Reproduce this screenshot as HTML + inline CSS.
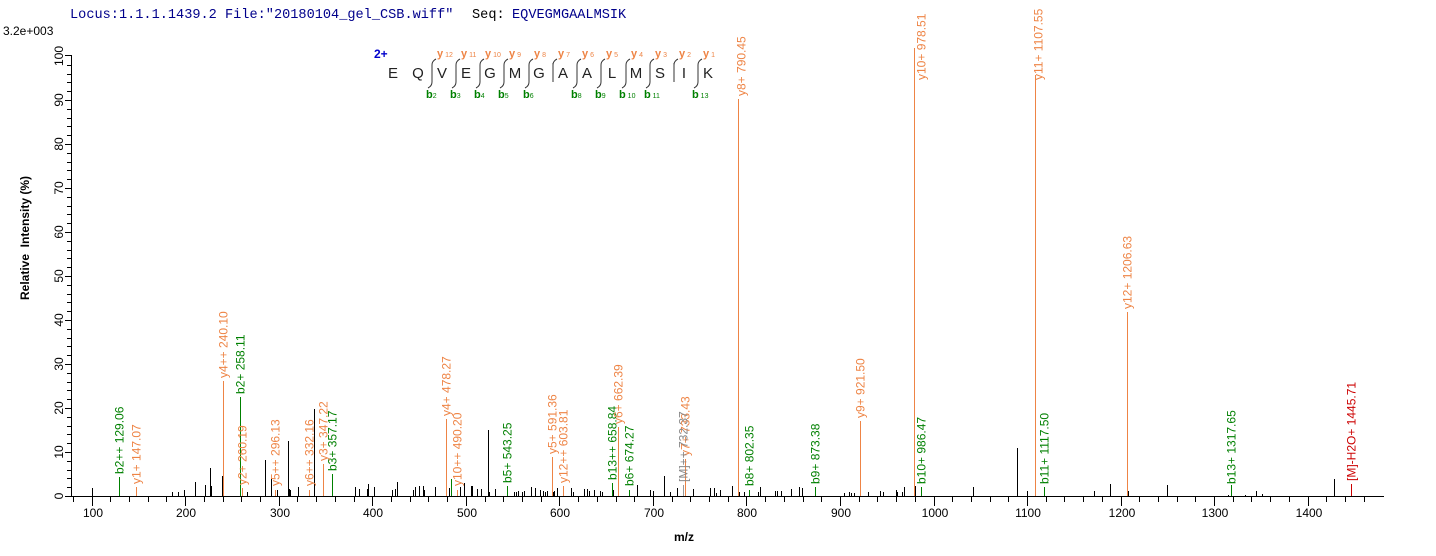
<!DOCTYPE html>
<html><head><meta charset="utf-8"><style>
html,body{margin:0;padding:0;background:#fff;}
svg{display:block;}
text{font-family:"Liberation Sans",Arial,sans-serif;}
.mono{font-family:"Liberation Mono","DejaVu Sans Mono",monospace;}
</style></head><body>
<svg width="1436" height="556" viewBox="0 0 1436 556" xmlns="http://www.w3.org/2000/svg">
<rect width="1436" height="556" fill="#fff"/>
<!-- header -->
<text x="70" y="18" class="mono" font-size="13.6" fill="#00008b">Locus:1.1.1.1439.2 File:"20180104_gel_CSB.wiff"</text>
<text x="472" y="18" class="mono" font-size="13.6" fill="#000">Seq:</text>
<text x="512" y="18" class="mono" font-size="13.6" fill="#00008b">EQVEGMGAALMSIK</text>
<text x="3" y="35" font-size="12" fill="#000">3.2e+003</text>

<!-- sequence -->
<text x="374" y="58" font-size="12" font-weight="bold" fill="#0000cc">2+</text>
<g font-size="15" fill="#222" text-anchor="middle">
<text x="393" y="78">E</text><text x="418" y="78">Q</text><text x="442" y="78">V</text><text x="466" y="78">E</text><text x="490" y="78">G</text><text x="515" y="78">M</text><text x="539" y="78">G</text><text x="563" y="78">A</text><text x="587" y="78">A</text><text x="612" y="78">L</text><text x="636" y="78">M</text><text x="660" y="78">S</text><text x="684" y="78">I</text><text x="708" y="78">K</text>
</g>
<g stroke="#333" stroke-width="1" fill="none">
<path d="M432 65V82 M432 65Q432 61 436 59 M432 82Q432 86 428 88"/>
<path d="M456 65V82 M456 65Q456 61 460 59 M456 82Q456 86 452 88"/>
<path d="M480 65V82 M480 65Q480 61 484 59 M480 82Q480 86 476 88"/>
<path d="M504 65V82 M504 65Q504 61 508 59 M504 82Q504 86 500 88"/>
<path d="M529 65V82 M529 65Q529 61 533 59 M529 82Q529 86 525 88"/>
<path d="M553 63V82 M553 65Q553 61 557 59"/>
<path d="M577 65V82 M577 65Q577 61 581 59 M577 82Q577 86 573 88"/>
<path d="M601 65V82 M601 65Q601 61 605 59 M601 82Q601 86 597 88"/>
<path d="M626 65V82 M626 65Q626 61 630 59 M626 82Q626 86 622 88"/>
<path d="M650 65V82 M650 65Q650 61 654 59 M650 82Q650 86 646 88"/>
<path d="M674 63V82 M674 65Q674 61 678 59"/>
<path d="M698 65V82 M698 65Q698 61 702 59 M698 82Q698 86 694 88"/>
</g>
<g font-size="11" font-weight="bold" fill="#EE8445">
<text x="437" y="57">y<tspan font-size="7" font-weight="normal"> 12</tspan></text>
<text x="461" y="57">y<tspan font-size="7" font-weight="normal"> 11</tspan></text>
<text x="485" y="57">y<tspan font-size="7" font-weight="normal"> 10</tspan></text>
<text x="509" y="57">y<tspan font-size="7" font-weight="normal"> 9</tspan></text>
<text x="534" y="57">y<tspan font-size="7" font-weight="normal"> 8</tspan></text>
<text x="558" y="57">y<tspan font-size="7" font-weight="normal"> 7</tspan></text>
<text x="582" y="57">y<tspan font-size="7" font-weight="normal"> 6</tspan></text>
<text x="606" y="57">y<tspan font-size="7" font-weight="normal"> 5</tspan></text>
<text x="631" y="57">y<tspan font-size="7" font-weight="normal"> 4</tspan></text>
<text x="655" y="57">y<tspan font-size="7" font-weight="normal"> 3</tspan></text>
<text x="679" y="57">y<tspan font-size="7" font-weight="normal"> 2</tspan></text>
<text x="703" y="57">y<tspan font-size="7" font-weight="normal"> 1</tspan></text>
</g>
<g font-size="11" font-weight="bold" fill="#008000">
<text x="426" y="98">b<tspan font-size="7" font-weight="normal">2</tspan></text>
<text x="450" y="98">b<tspan font-size="7" font-weight="normal">3</tspan></text>
<text x="474" y="98">b<tspan font-size="7" font-weight="normal">4</tspan></text>
<text x="498" y="98">b<tspan font-size="7" font-weight="normal">5</tspan></text>
<text x="523" y="98">b<tspan font-size="7" font-weight="normal">6</tspan></text>
<text x="571" y="98">b<tspan font-size="7" font-weight="normal">8</tspan></text>
<text x="595" y="98">b<tspan font-size="7" font-weight="normal">9</tspan></text>
<text x="619" y="98">b<tspan font-size="7" font-weight="normal"> 10</tspan></text>
<text x="644" y="98">b<tspan font-size="7" font-weight="normal"> 11</tspan></text>
<text x="692" y="98">b<tspan font-size="7" font-weight="normal"> 13</tspan></text>
</g>

<!-- axes -->
<g stroke="#000" stroke-width="1" shape-rendering="crispEdges">
<line x1="71.5" y1="55" x2="71.5" y2="496.5"/>
<line x1="71" y1="496.5" x2="1384" y2="496.5"/>
<path d="M65 496.5H71 M65 452.5H71 M65 408.5H71 M65 364.5H71 M65 320.5H71 M65 276.5H71 M65 232.5H71 M65 188.5H71 M65 144.5H71 M65 100.5H71 M65 55.5H71
M67 487.5H71 M67 478.5H71 M67 470.5H71 M67 461.5H71 M67 443.5H71 M67 434.5H71 M67 426.5H71 M67 417.5H71 M67 399.5H71 M67 390.5H71 M67 382.5H71 M67 373.5H71 M67 355.5H71 M67 346.5H71 M67 338.5H71 M67 329.5H71 M67 311.5H71 M67 302.5H71 M67 294.5H71 M67 285.5H71 M67 267.5H71 M67 258.5H71 M67 250.5H71 M67 241.5H71 M67 223.5H71 M67 214.5H71 M67 206.5H71 M67 197.5H71 M67 179.5H71 M67 170.5H71 M67 162.5H71 M67 153.5H71 M67 135.5H71 M67 126.5H71 M67 118.5H71 M67 109.5H71 M67 91.5H71 M67 82.5H71 M67 74.5H71 M67 65.5H71"/>
<path d="M73.5 497V502 M92.5 497V506 M110.5 497V502 M129.5 497V502 M148.5 497V502 M166.5 497V502 M185.5 497V506 M204.5 497V502 M223.5 497V502 M241.5 497V502 M260.5 497V502 M279.5 497V506 M297.5 497V502 M316.5 497V502 M335.5 497V502 M354.5 497V502 M372.5 497V506 M391.5 497V502 M410.5 497V502 M428.5 497V502 M447.5 497V502 M466.5 497V506 M485.5 497V502 M503.5 497V502 M522.5 497V502 M541.5 497V502 M559.5 497V506 M578.5 497V502 M597.5 497V502 M616.5 497V502 M634.5 497V502 M653.5 497V506 M672.5 497V502 M690.5 497V502 M709.5 497V502 M728.5 497V502 M746.5 497V506 M765.5 497V502 M784.5 497V502 M803.5 497V502 M821.5 497V502 M840.5 497V506 M859.5 497V502 M877.5 497V502 M896.5 497V502 M915.5 497V502 M934.5 497V506 M952.5 497V502 M971.5 497V502 M990.5 497V502 M1008.5 497V502 M1027.5 497V506 M1046.5 497V502 M1064.5 497V502 M1083.5 497V502 M1102.5 497V502 M1121.5 497V506 M1139.5 497V502 M1158.5 497V502 M1177.5 497V502 M1195.5 497V502 M1214.5 497V506 M1233.5 497V502 M1251.5 497V502 M1270.5 497V502 M1289.5 497V502 M1308.5 497V506 M1326.5 497V502 M1345.5 497V502 M1364.5 497V502"/>
</g>
<g font-size="12" fill="#000" text-anchor="middle">
<text x="93" y="517">100</text><text x="186" y="517">200</text><text x="280" y="517">300</text><text x="373" y="517">400</text><text x="467" y="517">500</text><text x="560" y="517">600</text><text x="654" y="517">700</text><text x="747" y="517">800</text><text x="841" y="517">900</text><text x="935" y="517">1000</text><text x="1028" y="517">1100</text><text x="1122" y="517">1200</text><text x="1215" y="517">1300</text><text x="1309" y="517">1400</text>
</g>
<g font-size="12" fill="#000" text-anchor="middle">
<text transform="translate(63,496) rotate(-90)">0</text>
<text transform="translate(63,452) rotate(-90)">10</text>
<text transform="translate(63,408) rotate(-90)">20</text>
<text transform="translate(63,364) rotate(-90)">30</text>
<text transform="translate(63,320) rotate(-90)">40</text>
<text transform="translate(63,276) rotate(-90)">50</text>
<text transform="translate(63,232) rotate(-90)">60</text>
<text transform="translate(63,188) rotate(-90)">70</text>
<text transform="translate(63,144) rotate(-90)">80</text>
<text transform="translate(63,100) rotate(-90)">90</text>
<text transform="translate(63,56) rotate(-90)">100</text>
</g>
<text transform="translate(29,238) rotate(-90)" font-size="12" font-weight="bold" text-anchor="middle" xml:space="preserve">Relative  Intensity (%)</text>
<text x="684" y="541" font-size="12" font-weight="bold" text-anchor="middle">m/z</text>

<!-- black peaks -->
<path stroke="#000" stroke-width="1" fill="none" shape-rendering="crispEdges" d="M92.5 496V488 M172.5 496V492 M178.5 496V492 M184.5 496V490 M195.5 496V482 M205.5 496V485 M210.5 496V468 M211.5 496V486 M222.5 496V476 M247.5 496V492 M265.5 496V460 M271.5 496V479 M277.5 496V490 M288.5 496V441 M289.5 496V489 M290.5 496V490 M298.5 496V487 M314.5 496V409 M355.5 496V487 M359.5 496V489 M367.5 496V489 M368.5 496V484 M374.5 496V487 M392.5 496V490 M395.5 496V489 M397.5 496V482 M413.5 496V490 M415.5 496V487 M419.5 496V486 M423.5 496V486 M424.5 496V490 M435.5 496V487 M449.5 496V488 M460.5 496V487 M464.5 496V483 M471.5 496V486 M472.5 496V486 M477.5 496V489 M481.5 496V489 M488.5 496V430 M489.5 496V492 M495.5 496V489 M514.5 496V492 M516.5 496V492 M518.5 496V491 M522.5 496V492 M524.5 496V491 M531.5 496V487 M535.5 496V488 M540.5 496V490 M543.5 496V491 M545.5 496V492 M547.5 496V491 M553.5 496V492 M554.5 496V491 M557.5 496V488 M571.5 496V488 M573.5 496V492 M584.5 496V489 M587.5 496V489 M589.5 496V491 M594.5 496V490 M600.5 496V491 M602.5 496V492 M613.5 496V490 M637.5 496V485 M650.5 496V490 M653.5 496V491 M664.5 496V476 M670.5 496V492 M677.5 496V488 M693.5 496V489 M710.5 496V488 M714.5 496V488 M716.5 496V493 M720.5 496V490 M732.5 496V486 M739.5 496V492 M744.5 496V492 M758.5 496V492 M760.5 496V487 M775.5 496V491 M777.5 496V491 M781.5 496V491 M791.5 496V489 M799.5 496V487 M802.5 496V488 M844.5 496V493 M849.5 496V492 M851.5 496V493 M854.5 496V493 M868.5 496V492 M880.5 496V491 M883.5 496V492 M896.5 496V490 M897.5 496V492 M902.5 496V492 M904.5 496V487 M915.5 496V486 M973.5 496V487 M1017.5 496V448 M1027.5 496V491 M1035.5 496V487 M1094.5 496V491 M1110.5 496V484 M1128.5 496V491 M1167.5 496V485 M1228.5 496V495 M1245.5 496V495 M1256.5 496V491 M1262.5 496V494 M1334.5 496V479"/>

<!-- labeled peaks -->
<g stroke-width="1" fill="none" shape-rendering="crispEdges">
<path stroke="#EE8445" d="M136.5 496V487 M223.5 496V381 M242.5 496V488 M275.5 496V490 M309.5 496V490 M323.5 496V464 M446.5 496V419 M457.5 496V490 M552.5 496V457 M563.5 496V486 M618.5 496V427 M685.5 496V459 M738.5 496V99 M860.5 496V421 M914.5 496V48 M1035.5 496V75 M1127.5 496V312"/>
<path stroke="#008000" d="M119.5 496V477 M240.5 496V397 M332.5 496V474 M451.5 496V479 M507.5 496V486 M612.5 496V483 M629.5 496V490 M749.5 496V490 M815.5 496V487 M921.5 496V487 M1044.5 496V487 M1231.5 496V485"/>
<path stroke="#999" d="M683.5 496V485"/>
<path stroke="#CC0000" d="M1351.5 496V484"/>
</g>
<g font-size="12">
<g fill="#008000">
<text transform="translate(123.5,474) rotate(-90)">b2++ 129.06</text>
<text transform="translate(244.5,394) rotate(-90)">b2+ 258.11</text>
<text transform="translate(336.5,471) rotate(-90)">b3+ 357.17</text>
<text transform="translate(511.5,483) rotate(-90)">b5+ 543.25</text>
<text transform="translate(616.5,480) rotate(-90)">b13++ 658.84</text>
<text transform="translate(633.5,486) rotate(-90)">b6+ 674.27</text>
<text transform="translate(753.5,486) rotate(-90)">b8+ 802.35</text>
<text transform="translate(819.5,484) rotate(-90)">b9+ 873.38</text>
<text transform="translate(925.5,484) rotate(-90)">b10+ 986.47</text>
<text transform="translate(1048.5,484) rotate(-90)">b11+ 1117.50</text>
<text transform="translate(1235.5,484) rotate(-90)">b13+ 1317.65</text>
</g>
<g fill="#EE8445">
<text transform="translate(140.5,484) rotate(-90)">y1+ 147.07</text>
<text transform="translate(227.5,378) rotate(-90)">y4++ 240.10</text>
<text transform="translate(246.5,485) rotate(-90)">y2+ 260.19</text>
<text transform="translate(279.5,486) rotate(-90)">y5++ 296.13</text>
<text transform="translate(313.5,486) rotate(-90)">y6++ 332.16</text>
<text transform="translate(327.5,461) rotate(-90)">y3+ 347.22</text>
<text transform="translate(450.5,416) rotate(-90)">y4+ 478.27</text>
<text transform="translate(461.5,486) rotate(-90)">y10++ 490.20</text>
<text transform="translate(556.5,454) rotate(-90)">y5+ 591.36</text>
<text transform="translate(567.5,483) rotate(-90)">y12++ 603.81</text>
<text transform="translate(622.5,424) rotate(-90)">y6+ 662.39</text>
<text transform="translate(689.5,456) rotate(-90)">y7+ 733.43</text>
<text transform="translate(745.5,96) rotate(-90)">y8+ 790.45</text>
<text transform="translate(864.5,418) rotate(-90)">y9+ 921.50</text>
<text transform="translate(925.5,80) rotate(-90)">y10+ 978.51</text>
<text transform="translate(1042.5,80) rotate(-90)">y11+ 1107.55</text>
<text transform="translate(1131.5,309) rotate(-90)">y12+ 1206.63</text>
</g>
<text transform="translate(687.5,482) rotate(-90)" fill="#888">[M]++ 732.37</text>
<text transform="translate(1355.5,481) rotate(-90)" fill="#CC0000">[M]-H2O+ 1445.71</text>
</g>
</svg>
</body></html>
